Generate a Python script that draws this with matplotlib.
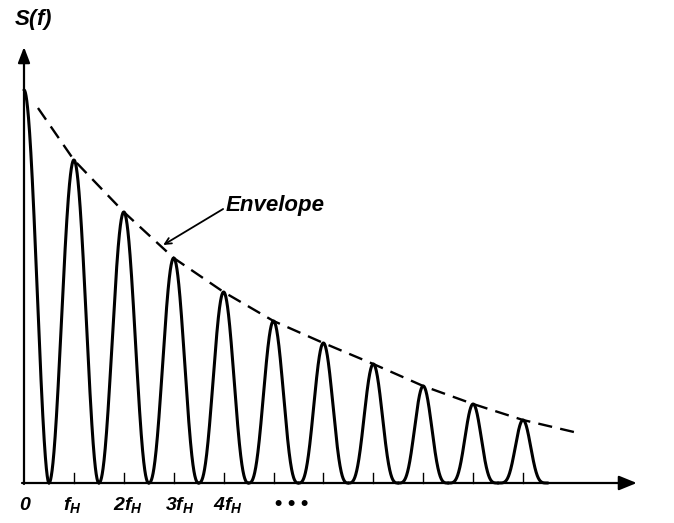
import numpy as np
import matplotlib
matplotlib.use("Agg")
import matplotlib.pyplot as plt

# spectral lines at multiples of the line frequency fH (heights)
harmonics = [0, 1, 2, 3, 4, 5, 6, 7, 8, 9, 10]
peak_heights = [393, 323, 271, 225, 191, 162, 140, 119, 97, 79, 63]

# dashed envelope points
env_x = [0.28, 1, 2, 3, 4, 5, 6, 7, 8, 9, 10, 11.02]
env_y = [375, 323, 271, 225, 191, 162, 140, 119, 97, 79, 63, 51]

tick_pos = [0.02, 0.97, 2.09, 3.13, 4.08]
tick_text = ['$0$', '$f_H$', '$2f_H$', '$3f_H$', '$4f_H$']

plt.rcParams['mathtext.fontset'] = 'custom'
plt.rcParams['mathtext.it'] = 'Liberation Sans:italic:bold'
plt.rcParams['mathtext.rm'] = 'Liberation Sans:italic:bold'
plt.rcParams['mathtext.default'] = 'it'

fig = plt.figure(figsize=(6.74, 5.23), dpi=100)
ax = fig.add_axes([0, 0, 1, 1])
ax.set_xlim(-0.481, 13.026)
ax.set_ylim(-40, 483)
ax.axis('off')

# pulse shape: cos^n lobe reaching zero half way between lines,
# the smaller lobes are drawn slimmer in the original
for k, h in zip(harmonics, peak_heights):
    n = 2 * np.sqrt(peak_heights[1] / h)
    lo = 0 if k == 0 else k - 0.5
    x = np.linspace(lo, k + 0.5, 300)
    y = h * np.abs(np.cos(np.pi * (x - k))) ** n
    ax.plot(x, y, color='black', lw=2.2, solid_capstyle='round')

# envelope
ax.plot(env_x, env_y, color='black', lw=1.7, linestyle=(0, (6, 3.5)))

# axes with arrows
ax.annotate('', xy=(12.28, 0), xytext=(-0.04, 0),
            arrowprops=dict(arrowstyle='-|>,head_length=0.54,head_width=0.22',
                            lw=1.6, color='black', mutation_scale=20,
                            shrinkA=0, shrinkB=0))
ax.annotate('', xy=(0, 436), xytext=(0, -1),
            arrowprops=dict(arrowstyle='-|>,head_length=0.47,head_width=0.18',
                            lw=1.6, color='black', mutation_scale=20,
                            shrinkA=0, shrinkB=0))

# small ticks at each harmonic
for k in harmonics[1:]:
    ax.plot([k, k], [0, 10], color='black', lw=1)

for p, t in zip(tick_pos, tick_text):
    ax.text(p, -27, t, ha='center', va='baseline', fontsize=14)
ax.text(5.37, -27, '\u2022 \u2022 \u2022', ha='center', va='baseline',
        fontsize=15, family='Liberation Sans', weight='bold')

ax.text(-0.2, 463, '$S(f)$', ha='left', va='center', fontsize=16)

ax.text(4.05, 277, 'Envelope', fontsize=16, family='Liberation Sans',
        style='italic', weight='bold', ha='left', va='center')
ax.annotate('', xy=(2.79, 238), xytext=(3.99, 274),
            arrowprops=dict(arrowstyle='->,head_length=0.45,head_width=0.22',
                            lw=1.3, color='black', shrinkA=0, shrinkB=0))

fig.savefig('out.png', dpi=100)
